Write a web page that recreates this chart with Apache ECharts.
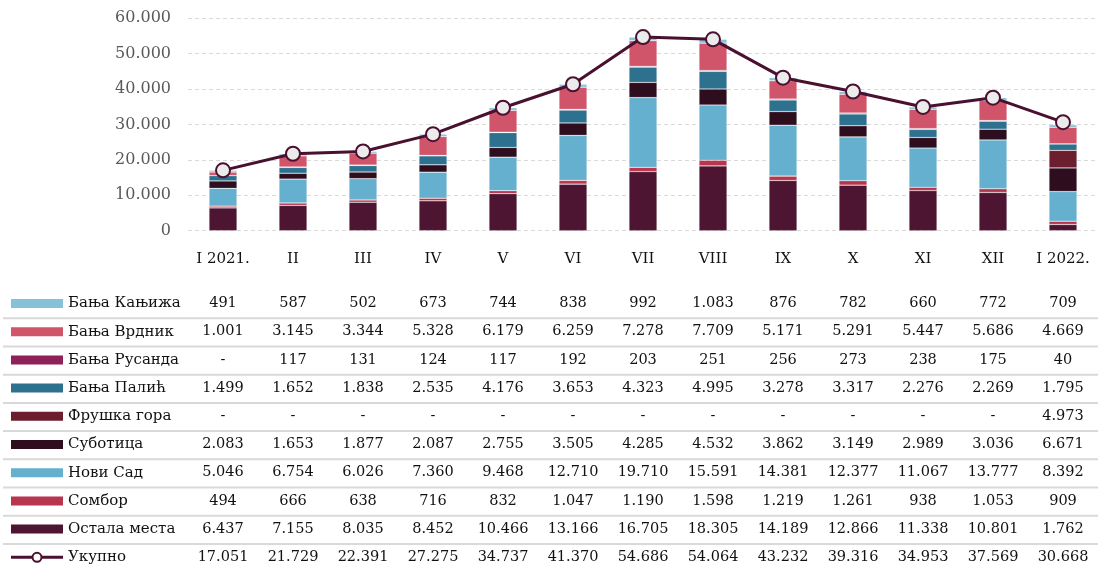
<!DOCTYPE html>
<html>
<head>
<meta charset="utf-8">
<script src="https://cdn.jsdelivr.net/npm/echarts@6/dist/echarts.min.js"></script>
<style>html,body{margin:0;padding:0;background:#fff;}#c{width:1098px;height:566px;}</style>
</head>
<body>
<div id="c"></div>
<script>
const categories = ['I 2021.','II','III','IV','V','VI','VII','VIII','IX','X','XI','XII','I 2022.'];
const kanjiza  = [491,587,502,673,744,838,992,1083,876,782,660,772,709];
const vrdnik   = [1001,3145,3344,5328,6179,6259,7278,7709,5171,5291,5447,5686,4669];
const rusanda  = [null,117,131,124,117,192,203,251,256,273,238,175,40];
const palic    = [1499,1652,1838,2535,4176,3653,4323,4995,3278,3317,2276,2269,1795];
const fruska   = [null,null,null,null,null,null,null,null,null,null,null,null,4973];
const subotica = [2083,1653,1877,2087,2755,3505,4285,4532,3862,3149,2989,3036,6671];
const noviSad  = [5046,6754,6026,7360,9468,12710,19710,15591,14381,12377,11067,13777,8392];
const sombor   = [494,666,638,716,832,1047,1190,1598,1219,1261,938,1053,909];
const ostala   = [6437,7155,8035,8452,10466,13166,16705,18305,14189,12866,11338,10801,1762];
const ukupno   = [17051,21729,22391,27275,34737,41370,54686,54064,43232,39316,34953,37569,30668];
const yTicks   = [0,10000,20000,30000,40000,50000,60000];

// stack order bottom -> top
const barSeries = [
  {name:'Остала места', data:ostala,   color:'#4E1533'},
  {name:'Сомбор',       data:sombor,   color:'#B9344D'},
  {name:'Нови Сад',     data:noviSad,  color:'#65B0CE'},
  {name:'Суботица',     data:subotica, color:'#2E0D1E'},
  {name:'Фрушка гора',  data:fruska,   color:'#6B1E2E'},
  {name:'Бања Палић',   data:palic,    color:'#2E718E'},
  {name:'Бања Русанда', data:rusanda,  color:'#8E2159'},
  {name:'Бања Врдник',  data:vrdnik,   color:'#D0546A'},
  {name:'Бања Кањижа',  data:kanjiza,  color:'#85C1D9'}
];
const lineColor = '#4A1030';
const FONT = 'DejaVu Serif';

function fmt(v){
  if (v === null || v === undefined) return '-';
  return String(v).replace(/\B(?=(\d{3})+(?!\d))/g, '.');
}

const chart = echarts.init(document.getElementById('c'), null, {renderer:'canvas'});

const series = barSeries.map(s => ({
  name: s.name, type:'bar', stack:'total', data: s.data, barWidth: 28,
  itemStyle:{color:s.color, borderColor:'rgba(255,255,255,0.35)', borderWidth:0.6},
  emphasis:{disabled:true}, z:2
}));
series.push({
  name:'Укупно', type:'line', data: ukupno, z:5,
  symbol:'circle', symbolSize:14,
  lineStyle:{color:lineColor, width:3},
  itemStyle:{color:'#EBEBEB', borderColor:lineColor, borderWidth:2},
  emphasis:{disabled:true}
});

chart.setOption({
  animation:false,
  grid:{left:188, top:18.3, width:915.5, height:212.4},
  xAxis:{
    type:'category', data:categories,
    axisLine:{show:false}, axisTick:{show:false},
    axisLabel:{fontFamily:FONT, fontSize:15, color:'#111', margin:21, interval:0}
  },
  yAxis:{
    type:'value', min:yTicks[0], max:yTicks[yTicks.length-1], interval:10000,
    axisLine:{show:false}, axisTick:{show:false},
    splitLine:{lineStyle:{color:'#D9D9D9', type:[4,3], width:1}},
    axisLabel:{fontFamily:FONT, fontSize:16, color:'#595959', margin:17, formatter:v=>fmt(v)}
  },
  series: series
});

// Data table below the chart, built from the same arrays
const tableRows = barSeries.slice().reverse().map(s => ({name:s.name, data:s.data, color:s.color, line:false}));
tableRows.push({name:'Укупно', data:ukupno, color:lineColor, line:true});

const rowTop = 303.5, rowStep = 28.2;
const g = [];
tableRows.forEach((r, i) => {
  const cy = rowTop + i*rowStep;
  if (r.line) {
    g.push({type:'line', shape:{x1:11, y1:cy, x2:63, y2:cy}, style:{stroke:r.color, lineWidth:3}});
    g.push({type:'circle', shape:{cx:37, cy:cy, r:4.5}, style:{fill:'#fff', stroke:r.color, lineWidth:2}});
  } else {
    g.push({type:'rect', shape:{x:11, y:cy-4.5, width:52, height:9}, style:{fill:r.color}});
  }
  g.push({type:'text', x:68, y:cy, style:{text:r.name, font:'15px "'+FONT+'"', fill:'#111', verticalAlign:'middle'}});
  r.data.forEach((v, j) => {
    const px = chart.convertToPixel({xAxisIndex:0}, categories[j]);
    g.push({type:'text', x:px, y:cy, style:{text:fmt(v), font:'14.5px "'+FONT+'"', fill:'#111', align:'center', verticalAlign:'middle'}});
  });
  if (i < tableRows.length - 1) {
    g.push({type:'line', shape:{x1:3, y1:cy+14.8, x2:1098, y2:cy+14.8}, style:{stroke:'#D9D9D9', lineWidth:2}});
  }
});
chart.setOption({graphic:{elements:g}});
</script>
</body>
</html>
